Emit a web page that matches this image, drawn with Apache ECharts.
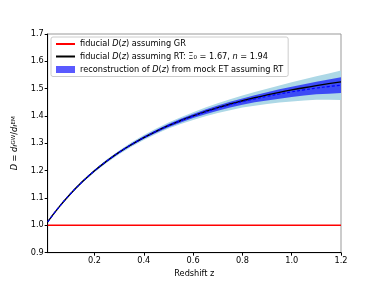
<!DOCTYPE html>
<html><head><meta charset="utf-8">
<script src="https://cdn.jsdelivr.net/npm/echarts@6/dist/echarts.min.js"></script>
<style>html,body{margin:0;padding:0;background:#fff}#c{width:379px;height:284px}</style>
</head><body><div id="c"></div>
<script>
// Redshift samples
const zValues = [0.01,0.05,0.10,0.15,0.20,0.25,0.30,0.35,0.40,0.45,0.50,0.55,0.60,0.65,0.70,0.75,0.80,0.85,0.90,0.95,1.00,1.05,1.10,1.15,1.20];
// fiducial D(z) assuming GR
const grValues = [1,1,1,1,1,1,1,1,1,1,1,1,1,1,1,1,1,1,1,1,1,1,1,1,1];
// fiducial D(z) assuming RT
const rtValues = [1.0128,1.0605,1.1131,1.1591,1.1996,1.2354,1.2673,1.2957,1.3212,1.3442,1.3649,1.3837,1.4008,1.4164,1.4307,1.4438,1.4558,1.4669,1.4771,1.4866,1.4954,1.5036,1.5112,1.5183,1.5249];
// reconstruction (mean)
const recValues = [1.0128,1.0605,1.1131,1.1591,1.1996,1.2354,1.2673,1.2957,1.3212,1.3442,1.3649,1.3832,1.3998,1.4149,1.4287,1.4413,1.4528,1.4629,1.4721,1.4806,1.4884,1.4956,1.5022,1.5078,1.5129];
// half-widths of the outer (light) and inner (dark) bands
const lightHalf = [0.001,0.002,0.003,0.004,0.005,0.006,0.007,0.008,0.009,0.010,0.011,0.012,0.014,0.016,0.018,0.020,0.022,0.025,0.028,0.031,0.035,0.039,0.043,0.048,0.054];
const darkHalf  = [0.0005,0.001,0.0015,0.002,0.0025,0.003,0.0035,0.004,0.0045,0.005,0.006,0.0065,0.0075,0.0085,0.0095,0.0105,0.0115,0.013,0.015,0.017,0.019,0.021,0.023,0.026,0.029];
// axis ticks
const yTicks = [0.9,1.0,1.1,1.2,1.3,1.4,1.5,1.6,1.7];
const xTicks = [0.2,0.4,0.6,0.8,1.0,1.2];

const pair = (arr) => zValues.map((z,i)=>[z,arr[i]]);
const band = (half) => zValues.map((z,i)=>[z, recValues[i]-half[i], recValues[i]+half[i]]);
const lightBand = band(lightHalf);
const darkBand = band(darkHalf);

function bandRenderer(rows, color) {
  return function(params, api) {
    if (params.dataIndex !== 0) return null;
    const pts = [];
    for (let i = 0; i < rows.length; i++) pts.push(api.coord([rows[i][0], rows[i][1]]));
    for (let i = rows.length - 1; i >= 0; i--) pts.push(api.coord([rows[i][0], rows[i][2]]));
    return {type:'polygon', shape:{points:pts, smooth:0}, style:{fill:color, stroke:null}, silent:true};
  };
}

const FONT = 'DejaVu Sans';
const chart = echarts.init(document.getElementById('c'), null, {renderer:'canvas'});
const lab = {
  GR: 'fiducial {it|D}({it|z}) assuming GR',
  RT: 'fiducial {it|D}({it|z}) assuming RT: Ξ{sub|0} = 1.67, {it|n} = 1.94',
  REC: 'reconstruction of {it|D}({it|z}) from mock ET assuming RT'
};
chart.setOption({
  animation:false,
  backgroundColor:'#fff',
  grid:{left:47.7, right:38, top:34, bottom:31.3, show:true, borderColor:'#999', borderWidth:1},
  legend:{
    left:51, top:37, orient:'vertical', itemGap:4.5, itemWidth:19, itemHeight:7,
    padding:[3,5,3,4], backgroundColor:'rgba(255,255,255,0.85)', borderColor:'#ccc', borderWidth:1, borderRadius:2,
    data:[{name:'GR', itemStyle:{opacity:0}},{name:'RT', itemStyle:{opacity:0}},{name:'REC', icon:'rect', itemStyle:{color:'#5a5aff'}}],
    formatter:(n)=>lab[n],
    textStyle:{fontFamily:FONT, fontSize:8.2, color:'#000',
      rich:{it:{fontStyle:'italic', fontFamily:FONT, fontSize:8.2}, sub:{fontFamily:FONT, fontSize:5.5, verticalAlign:'bottom', padding:[3,0,0,0]}}}
  },
  xAxis:{type:'value', min:0.01, max:1.2, interval:0.2,
    name:'Redshift z', nameLocation:'middle', nameGap:17,
    nameTextStyle:{fontFamily:FONT, fontSize:8.2, color:'#000'},
    axisLine:{onZero:false, lineStyle:{color:'#000', width:1}},
    axisTick:{show:true, length:3, lineStyle:{color:'#000'}, customValues:xTicks},
    axisLabel:{fontFamily:FONT, fontSize:8.2, color:'#000', margin:4, customValues:xTicks, formatter:(v)=>v.toFixed(1)},
    splitLine:{show:false}},
  yAxis:{type:'value', min:0.9, max:1.7, interval:0.1,
    name:'{it|D} = {it|d}{sub|ℓ}{sup|GW}/{it|d}{sub|ℓ}{sup|EM}', nameLocation:'middle', nameGap:29,
    nameTextStyle:{fontFamily:FONT, fontSize:8.2, color:'#000',
      rich:{it:{fontStyle:'italic', fontFamily:FONT, fontSize:8.2}, sub:{fontFamily:FONT, fontSize:5.5, verticalAlign:'bottom'}, sup:{fontFamily:FONT, fontSize:5.5, verticalAlign:'top'}}},
    axisLine:{onZero:false, lineStyle:{color:'#000', width:1}},
    axisTick:{show:true, length:3, lineStyle:{color:'#000'}},
    axisLabel:{fontFamily:FONT, fontSize:8.2, color:'#000', margin:4, formatter:(v)=>v.toFixed(1)},
    splitLine:{show:false}},
  series:[
    {name:'LIGHT', type:'custom', data:lightBand, encode:{x:0, y:[1,2]}, renderItem:bandRenderer(lightBand, '#add8e6'), clip:true, silent:true, z:1},
    {name:'REC', type:'custom', data:darkBand, encode:{x:0, y:[1,2]}, itemStyle:{color:'#5a5aff'}, renderItem:bandRenderer(darkBand, 'rgba(0,0,255,0.65)'), clip:true, silent:true, z:2},
    {name:'GR', type:'line', data:pair(grValues), symbol:'none', itemStyle:{color:'#ff0000'}, lineStyle:{color:'#ff0000', width:1.5}, z:3},
    {name:'RT', type:'line', data:pair(rtValues), symbol:'none', smooth:true, itemStyle:{color:'#000'}, lineStyle:{color:'#000', width:1.4}, z:3},
    {name:'recmean', type:'line', data:pair(recValues), symbol:'none', smooth:true, lineStyle:{color:'#0000ff', width:1.2, type:[3,2]}, z:4}
  ]
});
</script></body></html>
